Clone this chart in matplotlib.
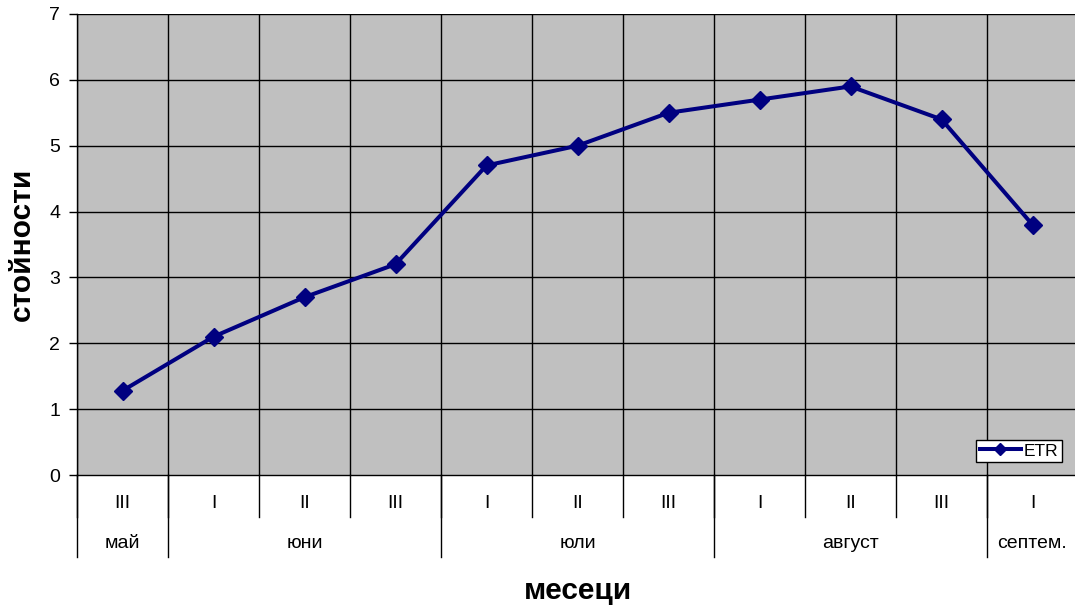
import matplotlib
matplotlib.use("Agg")
import matplotlib.pyplot as plt
from matplotlib.transforms import blended_transform_factory
from matplotlib.lines import Line2D

plt.rcParams['font.family'] = ['Liberation Sans', 'DejaVu Sans']

# Ten-day periods (декади) and their months
decades = ["III", "I", "II", "III", "I", "II", "III", "I", "II", "III", "I"]
months = ["май", "юни", "юли", "август", "септем."]
month_spans = [1, 3, 3, 3, 1]
etr = [1.28, 2.1, 2.7, 3.2, 4.7, 5.0, 5.5, 5.7, 5.9, 5.4, 3.8]

fig = plt.figure(figsize=(10.75, 6.08), dpi=100)
ax = fig.add_axes([77 / 1075, 133 / 608, 1001 / 1075, 461 / 608])
ax.set_facecolor("#C0C0C0")

n = len(decades)
x = list(range(n))
ax.set_xlim(-0.5, n - 0.5)
ax.set_ylim(0, 7)

# grid
for i in range(n + 1):
    ax.axvline(i - 0.5, color="black", lw=1.0, zorder=1)
for v in range(1, 8):
    ax.axhline(v, color="black", lw=1.0, zorder=1)

ax.plot(x, etr, color="#000080", lw=2.9, marker="D", markersize=9.5,
        zorder=3, label="ETR", clip_on=False)

ax.set_yticks(range(0, 8))
ax.tick_params(axis="y", labelsize=14, length=6, width=1, direction="out", pad=6)
ax.set_xticks([])
for side in ["top", "right"]:
    ax.spines[side].set_visible(False)
ax.spines["left"].set_linewidth(1.0)
ax.spines["bottom"].set_linewidth(1.0)

trans = blended_transform_factory(ax.transData, ax.transAxes)
sub_h = 42 / 461
mon_h = 82 / 461

# decade labels and dividers
for i, lab in enumerate(decades):
    ax.text(i, -28 / 461, lab, transform=trans, ha="center", va="center", fontsize=14)
for i in range(n + 1):
    ax.add_line(Line2D([i - 0.5, i - 0.5], [0, -sub_h], transform=trans,
                       color="black", lw=1.0, clip_on=False))

# month labels and dividers
start = 0
bounds = [0]
for name, span in zip(months, month_spans):
    centre = start + (span - 1) / 2
    ax.text(centre, -68 / 461, name, transform=trans, ha="center", va="center", fontsize=14)
    start += span
    bounds.append(start)
for b in bounds:
    ax.add_line(Line2D([b - 0.5, b - 0.5], [0, -mon_h], transform=trans,
                       color="black", lw=1.0, clip_on=False))

fig.text(578 / 1075, 1 - 591 / 608, "месеци", ha="center", va="center",
         fontsize=21.5, fontweight="bold")
fig.text(22 / 1075, 1 - 244 / 608, "стойности", ha="center", va="center",
         fontsize=21.5, fontweight="bold", rotation=90)

leg = ax.legend(loc="lower right", bbox_to_anchor=(985 / 1001, 13 / 461),
                fontsize=12.5, frameon=True, fancybox=False, edgecolor="black",
                facecolor="white", framealpha=1, handlelength=2.4,
                markerscale=0.65, borderpad=0.2, handletextpad=0.15,
                borderaxespad=0)
leg.get_frame().set_linewidth(1.0)

fig.savefig("out.png", dpi=100)
